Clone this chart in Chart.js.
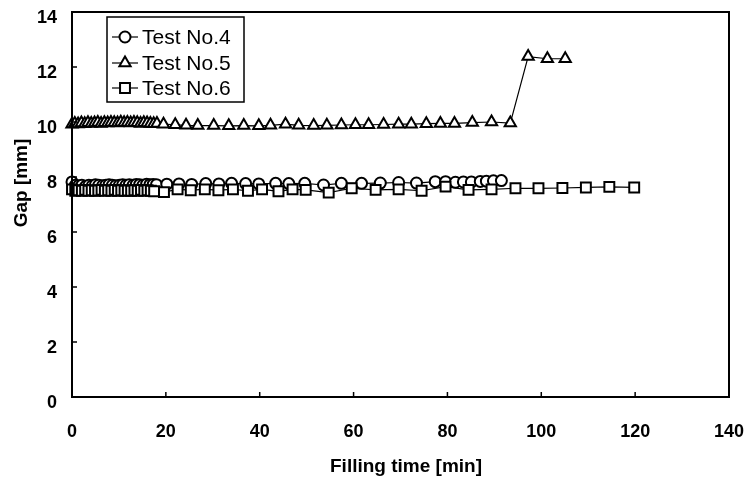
<!DOCTYPE html>
<html>
<head>
<meta charset="utf-8">
<title>Gap vs filling time</title>
<script src="https://cdn.jsdelivr.net/npm/chart.js@4.4.1/dist/chart.umd.min.js"></script>
<style>
  html, body { margin: 0; padding: 0; background: #fff; }
  #wrap { width: 749px; height: 480px; }
</style>
</head>
<body>
<div id="wrap"><canvas id="gapChart" width="749" height="480"></canvas></div>
<script>
"use strict";

// axis ticks
const xTicks = [0, 20, 40, 60, 80, 100, 120, 140];
const yTicks = [0, 2, 4, 6, 8, 10, 12, 14];

// Test No.4 (circles)
const t4Time = [0, 0.7, 1.4, 2.1, 2.9, 3.6, 4.3, 5.0, 5.7, 6.5, 7.2, 7.9, 8.6, 9.3, 10.1, 10.8, 11.5, 12.2, 13.0, 13.7, 14.4, 15.1, 15.9, 16.6, 17.3, 18.0,
  20.2, 22.8, 25.5, 28.5, 31.3, 34.0, 37.0, 39.8, 43.4, 46.2, 49.6, 53.6, 57.4, 61.7, 65.7, 69.6, 73.4, 77.4, 79.6, 81.7, 83.4, 85.1, 87.0, 88.3, 89.8, 91.5];
const t4Gap = [7.82, 7.7, 7.68, 7.7, 7.66, 7.7, 7.68, 7.72, 7.7, 7.68, 7.7, 7.72, 7.7, 7.68, 7.7, 7.72, 7.7, 7.72, 7.7, 7.73, 7.72, 7.7, 7.74, 7.72, 7.73, 7.72,
  7.74, 7.75, 7.73, 7.76, 7.75, 7.77, 7.76, 7.75, 7.77, 7.76, 7.77, 7.71, 7.77, 7.77, 7.78, 7.8, 7.78, 7.83, 7.83, 7.81, 7.82, 7.82, 7.84, 7.85, 7.86, 7.87];

// Test No.5 (triangles)
const t5Time = [0, 0.6, 1.3, 2.0, 2.7, 3.4, 4.1, 4.8, 5.5, 6.2, 6.9, 7.6, 8.3, 9.0, 9.7, 10.4, 11.1, 11.8, 12.5, 13.2, 13.9, 14.6, 15.3, 16.0, 16.7, 17.4, 18.1,
  19.5, 22.0, 24.3, 26.8, 30.2, 33.4, 36.6, 39.8, 42.3, 45.5, 48.3, 51.5, 54.3, 57.4, 60.4, 63.2, 66.4, 69.6, 72.3, 75.5, 78.5, 81.5, 85.3, 89.4, 93.4, 97.2, 101.3, 105.1];
const t5Gap = [9.92, 9.95, 9.93, 9.96, 9.94, 9.97, 9.95, 9.96, 9.98, 9.95, 9.97, 9.96, 9.98, 9.97, 9.96, 9.99, 9.97, 9.98, 9.96, 9.98, 9.97, 9.95, 9.97, 9.96, 9.95, 9.94, 9.95,
  9.92, 9.9, 9.88, 9.87, 9.87, 9.86, 9.87, 9.86, 9.88, 9.92, 9.88, 9.87, 9.88, 9.89, 9.9, 9.9, 9.91, 9.92, 9.92, 9.94, 9.95, 9.95, 9.98, 10.0, 9.96, 12.38, 12.3, 12.3];

// Test No.6 (squares)
const t6Time = [0, 0.7, 1.4, 2.1, 2.8, 3.5, 4.2, 4.9, 5.6, 6.3, 7.0, 7.7, 8.4, 9.1, 9.8, 10.5, 11.2, 11.9, 12.6, 13.3, 14.0, 14.7, 15.4, 16.1, 16.8, 17.5,
  19.6, 22.5, 25.3, 28.3, 31.2, 34.3, 37.5, 40.5, 44.0, 47.0, 49.8, 54.7, 59.6, 64.7, 69.6, 74.5, 79.6, 84.5, 89.4, 94.5, 99.4, 104.5, 109.5, 114.5, 119.8];
const t6Gap = [7.55, 7.5, 7.52, 7.5, 7.53, 7.5, 7.52, 7.5, 7.51, 7.53, 7.5, 7.52, 7.5, 7.53, 7.5, 7.52, 7.5, 7.51, 7.5, 7.52, 7.5, 7.53, 7.5, 7.52, 7.5, 7.48,
  7.45, 7.55, 7.52, 7.55, 7.52, 7.55, 7.5, 7.55, 7.48, 7.55, 7.53, 7.43, 7.59, 7.53, 7.55, 7.5, 7.65, 7.53, 7.55, 7.59, 7.59, 7.6, 7.62, 7.64, 7.62];

const tickFont = { family: "'Liberation Sans', Arial, sans-serif", weight: "bold", size: 18 };
const titleFont = "bold 19px 'Liberation Sans', Arial, sans-serif";
const legendFont = "21px 'Liberation Sans', Arial, sans-serif";

function toPoints(xs, ys) {
  return xs.map((x, i) => ({ x, y: ys[i] }));
}

function series(label, xs, ys, style, radius, order) {
  return {
    label,
    data: toPoints(xs, ys),
    borderColor: "#000",
    borderWidth: 1.2,
    pointStyle: style,
    pointRadius: radius,
    pointBorderWidth: 2,
    pointBorderColor: "#000",
    pointBackgroundColor: "#fff",
    showLine: true,
    tension: 0,
    clip: false,
    order,
  };
}

const datasets = [
  series("Test No.4", t4Time, t4Gap, "circle", 5.5, 3),
  series("Test No.5", t5Time, t5Gap, "triangle", 6.5, 2),
  series("Test No.6", t6Time, t6Gap, "rect", 7, 1),
];

// box, inward ticks, axis titles and the legend
const frame = {
  id: "frame",
  afterDraw(chart) {
    const { ctx, chartArea: a, scales } = chart;
    ctx.save();
    ctx.strokeStyle = "#000";
    ctx.lineWidth = 2;
    ctx.strokeRect(a.left, a.top, a.right - a.left, a.bottom - a.top);

    ctx.lineWidth = 1.5;
    ctx.beginPath();
    xTicks.forEach((v) => {
      const px = scales.x.getPixelForValue(v);
      ctx.moveTo(px, a.bottom);
      ctx.lineTo(px, a.bottom - 5);
    });
    yTicks.forEach((v) => {
      const py = scales.y.getPixelForValue(v);
      ctx.moveTo(a.left, py);
      ctx.lineTo(a.left + 5, py);
    });
    ctx.stroke();

    ctx.fillStyle = "#000";
    ctx.font = titleFont;
    ctx.textAlign = "center";
    ctx.textBaseline = "middle";
    ctx.fillText("Filling time [min]", 406, 467);
    ctx.save();
    ctx.translate(22, 183);
    ctx.rotate(-Math.PI / 2);
    ctx.fillText("Gap [mm]", 0, 0);
    ctx.restore();

    // legend
    ctx.lineWidth = 1.5;
    ctx.strokeRect(107, 17, 137, 85);
    const rows = [37, 63, 88];
    ctx.font = legendFont;
    ctx.textAlign = "left";
    chart.data.datasets.forEach((ds, i) => {
      const y = rows[i];
      ctx.strokeStyle = "#000";
      ctx.lineWidth = 1.2;
      ctx.beginPath();
      ctx.moveTo(112, y);
      ctx.lineTo(138, y);
      ctx.stroke();
      ctx.fillStyle = "#fff";
      ctx.lineWidth = 2;
      Chart.helpers.drawPoint(ctx, { pointStyle: ds.pointStyle, radius: ds.pointRadius, rotation: 0, borderWidth: 2 }, 125, y);
      ctx.fillStyle = "#000";
      ctx.fillText(ds.label, 142, y + 1);
    });
    ctx.restore();
  },
};

new Chart(document.getElementById("gapChart"), {
  type: "scatter",
  data: { datasets },
  options: {
    responsive: false,
    animation: false,
    layout: { padding: { left: 0, top: 12, right: 20, bottom: 0 } },
    plugins: { legend: { display: false }, tooltip: { enabled: false } },
    scales: {
      x: {
        type: "linear",
        min: 0,
        max: 140,
        afterBuildTicks: (s) => { s.ticks = xTicks.map((v) => ({ value: v })); },
        afterFit: (s) => { s.height = 83; s.paddingLeft = 0; s.paddingRight = 0; },
        grid: { display: false, drawTicks: false },
        border: { display: false },
        ticks: { color: "#000", font: tickFont, padding: 24, maxRotation: 0 },
      },
      y: {
        type: "linear",
        min: 0,
        max: 14,
        afterBuildTicks: (s) => { s.ticks = yTicks.map((v) => ({ value: v })); },
        afterFit: (s) => { s.width = 72; s.paddingTop = 0; s.paddingBottom = 0; },
        grid: { display: false, drawTicks: false },
        border: { display: false },
        ticks: { color: "#000", font: tickFont, padding: 15, labelOffset: 6 },
      },
    },
  },
  plugins: [frame],
});
</script>
</body>
</html>
